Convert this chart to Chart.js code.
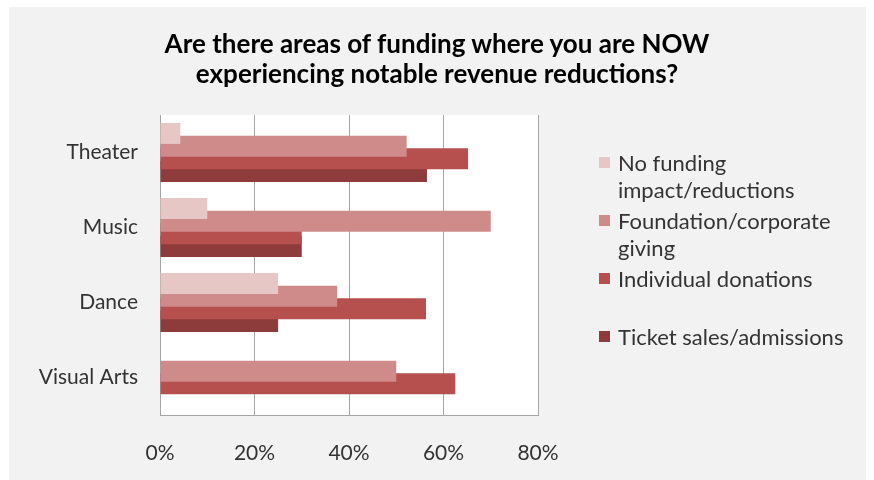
<!DOCTYPE html>
<html>
<head>
<meta charset="utf-8">
<script src="https://cdn.jsdelivr.net/npm/chart.js@4.4.1/dist/chart.umd.min.js"></script>
<style>
    body { margin: 0; background: #ffffff; }
    #panel {
        position: absolute; left: 9px; top: 7px; width: 857px; height: 473px;
        background: #f2f2f2;
    }
    #funding-chart { position: absolute; left: 0; top: 0; }
    #title {
        position: absolute; left: 0; top: 21px; width: 856px; text-align: center;
        font-family: Lato, sans-serif; font-weight: bold; font-size: 26px; line-height: 30px;
        color: #000000;
    }
    #legend {
        position: absolute; left: 590px; top: 142px; width: 265px;
        font-family: Lato, sans-serif; font-size: 22px; color: #333333;
    }
    .legend-row { position: absolute; left: 0; display: flex; align-items: flex-start; }
    .legend-box { width: 11px; height: 11px; margin: 8px 8px 0 0; flex: none; }
    .legend-text { line-height: 27px; width: 240px; }
</style>
</head>
<body>
<div id="panel">
    <canvas id="funding-chart" width="857" height="473"></canvas>
    <div id="title">Are there areas of funding where you are NOW<br>experiencing notable revenue reductions?</div>
    <div id="legend"></div>
</div>
<script>
var disciplines = ['Theater', 'Music', 'Dance', 'Visual Arts'];
var seriesNames = ['No funding impact/reductions', 'Foundation/corporate giving', 'Individual donations', 'Ticket sales/admissions'];
var noImpact = [4.3, 10.0, 25.0, 0];
var foundation = [52.2, 70.0, 37.5, 50.0];
var individual = [65.2, 30.0, 56.3, 62.5];
var tickets = [56.5, 30.0, 25.0, 0];
var tickValues = [0, 20, 40, 60, 80];
var colors = ['#e7c6c6', '#cf8a8a', '#b5504e', '#8e3b3b'];

document.addEventListener('DOMContentLoaded', function () {
    var values = [noImpact, foundation, individual, tickets];
    var datasets = seriesNames.map(function (name, i) {
        return {
            label: name,
            data: values[i],
            backgroundColor: colors[i],
            borderWidth: 0,
            categoryPercentage: 0.677,
            barPercentage: 1.65
        };
    });

    // white plot area on the grey panel
    var plotBackground = {
        id: 'plotBackground',
        beforeDraw: function (chart) {
            var a = chart.chartArea;
            chart.ctx.save();
            chart.ctx.fillStyle = '#ffffff';
            chart.ctx.fillRect(a.left, a.top, a.right - a.left, a.bottom - a.top);
            chart.ctx.restore();
        }
    };

    var ctx = document.getElementById('funding-chart').getContext('2d');
    var fundingChart = new Chart(ctx, {
        type: 'bar',
        data: { labels: disciplines, datasets: datasets },
        plugins: [plotBackground],
        options: {
            indexAxis: 'y',
            responsive: false,
            animation: false,
            layout: { padding: { top: 108, right: 328, bottom: 0, left: 0 } },
            scales: {
                x: {
                    min: 0,
                    max: 80,
                    afterBuildTicks: function (scale) {
                        scale.ticks = tickValues.map(function (v) { return { value: v }; });
                    },
                    afterFit: function (scale) { scale.height = 65; },
                    grid: { color: '#a6a6a6', drawTicks: false },
                    border: { color: '#a6a6a6' },
                    ticks: {
                        padding: 26,
                        color: '#333333',
                        font: { family: 'Lato', size: 21 },
                        callback: function (v) { return v + '%'; }
                    }
                },
                y: {
                    afterFit: function (scale) { scale.width = 151; },
                    grid: { display: false, drawTicks: false },
                    border: { color: '#a6a6a6' },
                    ticks: {
                        padding: 22,
                        color: '#333333',
                        font: { family: 'Lato', size: 21 }
                    }
                }
            },
            plugins: {
                legend: { display: false },
                tooltip: { enabled: false }
            }
        }
    });

    var legend = document.getElementById('legend');
    fundingChart.data.datasets.forEach(function (ds, i) {
        var row = document.createElement('div');
        row.className = 'legend-row';
        row.style.top = (i * 58) + 'px';
        row.innerHTML = '<span class="legend-box" style="background:' + ds.backgroundColor + '"></span>' +
            '<span class="legend-text">' + ds.label + '</span>';
        legend.appendChild(row);
    });
});
</script>
</body>
</html>
